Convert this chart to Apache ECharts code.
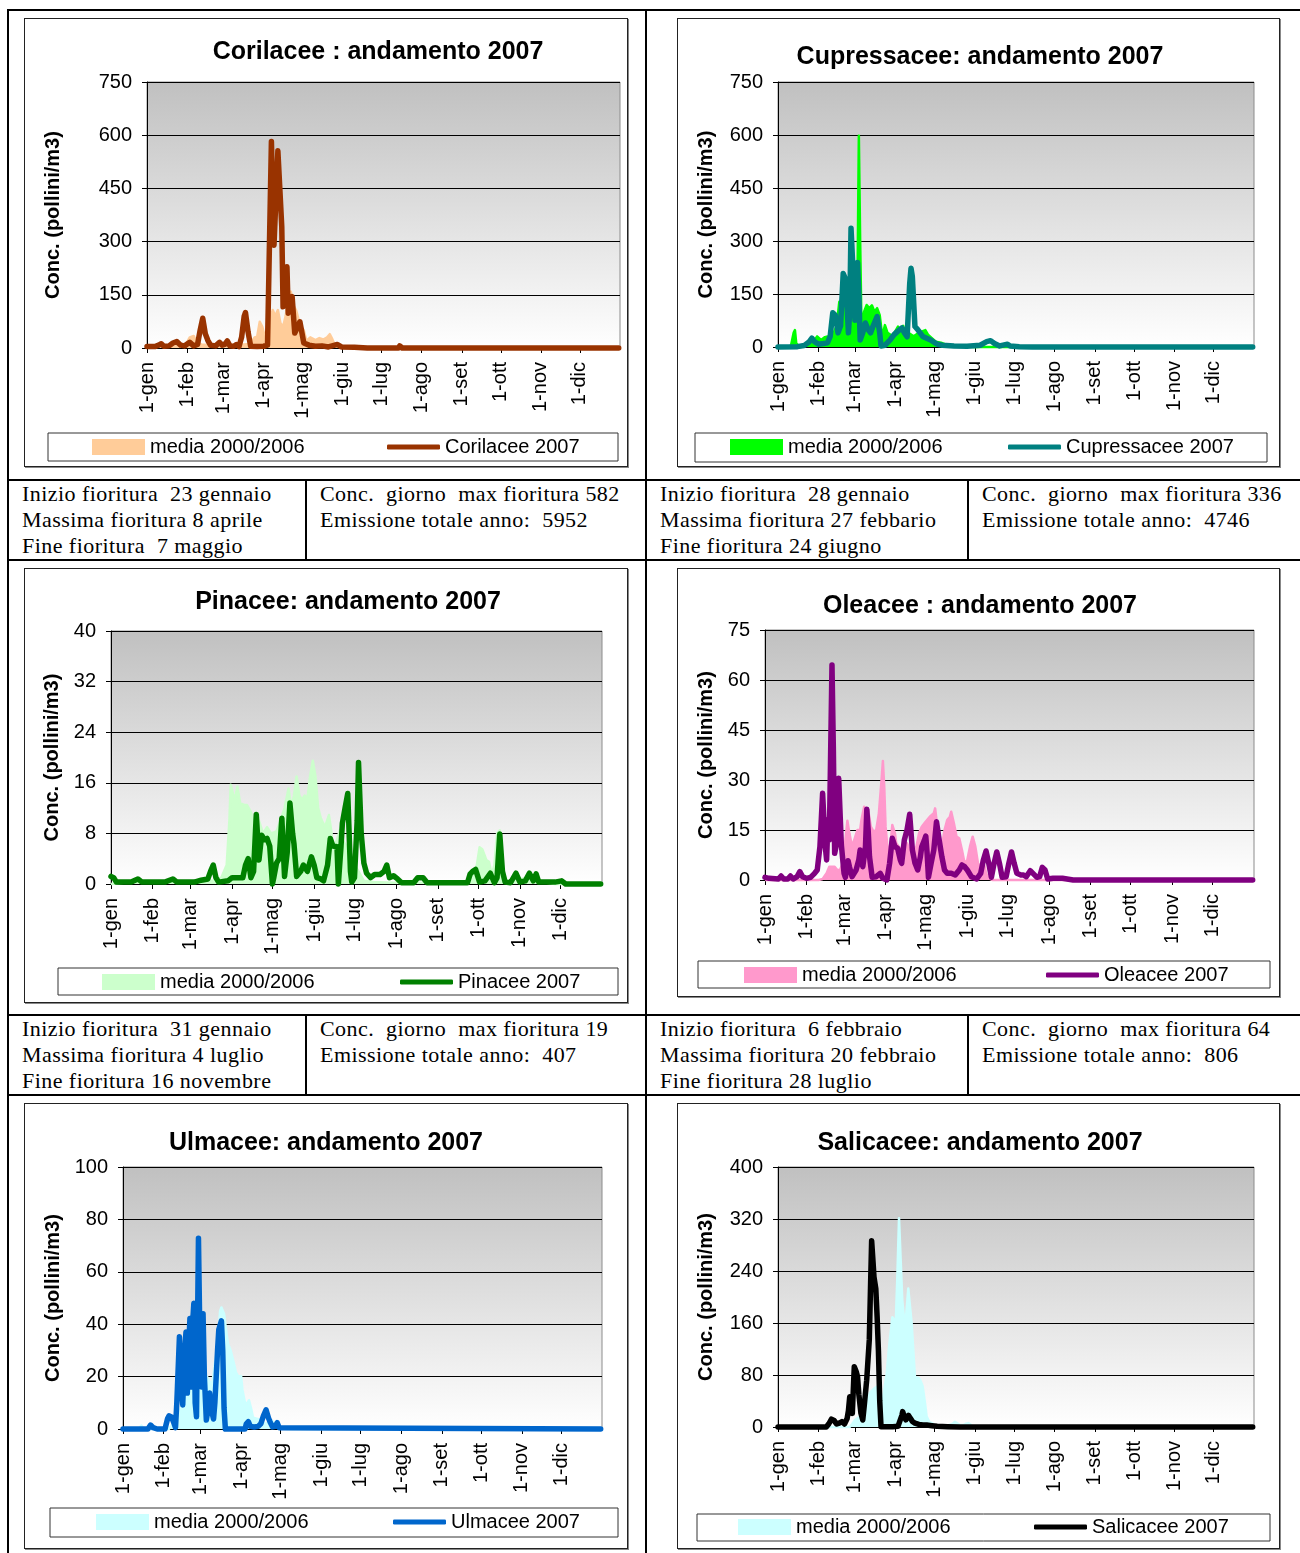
<!DOCTYPE html>
<html>
<head>
<meta charset="utf-8">
<title>Pollini 2007</title>
<script src="https://cdn.jsdelivr.net/npm/echarts@6.0.0/dist/echarts.min.js"></script>
<style>
body{margin:0;background:#fff;}
#page{position:relative;width:1300px;height:1553px;overflow:hidden;background:#fff;}
.hl{position:absolute;left:7px;width:1293px;height:2px;background:#000;}
.vl{position:absolute;width:2px;background:#000;}
.box{position:absolute;box-sizing:border-box;border:1px solid #222;box-shadow:1px 1px 0 #888;background:#fff;}
.chart{position:absolute;}
.note{position:absolute;font-family:'Liberation Serif',serif;font-size:22px;letter-spacing:0.45px;line-height:26px;white-space:pre;color:#000;}
</style>
</head>
<body>
<div id="page">
  <!-- griglia della tabella -->
  <div class="hl" style="top:9px"></div>
  <div class="hl" style="top:479px"></div>
  <div class="hl" style="top:559px"></div>
  <div class="hl" style="top:1014px"></div>
  <div class="hl" style="top:1094px"></div>
  <div class="vl" style="left:7px;top:9px;height:1544px"></div>
  <div class="vl" style="left:645px;top:9px;height:1544px"></div>
  <div class="vl" style="left:305px;top:479px;height:82px"></div>
  <div class="vl" style="left:967px;top:479px;height:82px"></div>
  <div class="vl" style="left:305px;top:1014px;height:82px"></div>
  <div class="vl" style="left:967px;top:1014px;height:82px"></div>

  <!-- note sotto i grafici -->
  <div class="note" style="left:22px;top:481px">Inizio fioritura  23 gennaio
Massima fioritura 8 aprile
Fine fioritura  7 maggio</div>
  <div class="note" style="left:320px;top:481px">Conc.  giorno  max fioritura 582
Emissione totale anno:  5952</div>
  <div class="note" style="left:660px;top:481px">Inizio fioritura  28 gennaio
Massima fioritura 27 febbario
Fine fioritura 24 giugno</div>
  <div class="note" style="left:982px;top:481px">Conc.  giorno  max fioritura 336
Emissione totale anno:  4746</div>
  <div class="note" style="left:22px;top:1016px">Inizio fioritura  31 gennaio
Massima fioritura 4 luglio
Fine fioritura 16 novembre</div>
  <div class="note" style="left:320px;top:1016px">Conc.  giorno  max fioritura 19
Emissione totale anno:  407</div>
  <div class="note" style="left:660px;top:1016px">Inizio fioritura  6 febbraio
Massima fioritura 20 febbraio
Fine fioritura 28 luglio</div>
  <div class="note" style="left:982px;top:1016px">Conc.  giorno  max fioritura 64
Emissione totale anno:  806</div>
</div>
<script>
//mesi e giorni di inizio mese
const monthStarts = [0, 31, 59, 90, 120, 151, 181, 212, 243, 273, 304, 334];
const monthNames = ['gen', 'feb', 'mar', 'apr', 'mag', 'giu', 'lug', 'ago', 'set', 'ott', 'nov', 'dic'];
const mediaName = 'media 2000/2006';

//Corilacee [giorno, conc.]
const corilaceeMedia = [[0,2],[10,4],[20,6],[30,10],[33,30],[36,34],[38,20],[42,10],[50,8],[60,10],[70,8],[80,12],[83,30],[85,32],[87,74],[89,60],[91,30],[93,60],[95,80],[97,107],[99,90],[101,107],[103,70],[105,60],[107,90],[109,140],[111,159],[113,120],[115,107],[117,80],[119,60],[121,50],[123,20],[126,30],[130,22],[133,28],[136,24],[139,30],[141,39],[143,25],[145,8],[150,3],[160,0],[364,0]];
const corilacee2007 = [[0,4],[6,4],[9,8],[11,12],[13,5],[17,6],[20,14],[23,18],[26,8],[29,6],[33,16],[36,6],[39,10],[41,50],[43,84],[45,40],[47,21],[49,8],[53,6],[56,16],[58,8],[60,10],[62,20],[64,6],[67,5],[69,10],[71,4],[73,30],[75,90],[76,100],[78,45],[80,5],[85,4],[90,5],[93,8],[94,200],[96,582],[98,290],[101,556],[104,342],[105,116],[108,229],[109,98],[112,145],[114,42],[118,74],[121,14],[125,8],[130,5],[135,6],[140,3],[147,10],[150,3],[160,2],[170,0],[194,0],[195,6],[197,0],[364,0]];

//Cupressacee
const cupressaceeMedia = [[0,0],[8,0],[10,5],[12,40],[13,48],[14,10],[16,3],[20,5],[25,10],[28,20],[30,30],[33,20],[36,28],[38,30],[40,20],[42,35],[45,60],[47,128],[50,120],[53,150],[55,130],[57,76],[59,70],[60,80],[61,200],[62,598],[63,300],[64,60],[66,100],[68,119],[70,110],[72,118],[74,100],[76,110],[78,90],[80,30],[82,62],[84,40],[86,35],[88,30],[90,45],[92,58],[94,40],[96,60],[98,30],[100,40],[104,30],[108,40],[111,45],[113,48],[115,35],[118,25],[121,15],[125,12],[130,5],[140,3],[150,0],[364,0]];
const cupressacee2007 = [[0,0],[15,1],[20,4],[24,15],[26,25],[28,15],[31,8],[35,10],[38,12],[40,30],[42,97],[44,90],[46,40],[48,60],[50,208],[52,190],[54,40],[55,100],[56,336],[58,180],[59,76],[61,239],[62,150],[63,20],[65,40],[67,68],[69,50],[71,40],[73,60],[76,86],[78,40],[79,3],[82,5],[86,20],[89,35],[92,45],[95,54],[97,40],[99,29],[101,180],[102,223],[103,200],[105,58],[107,50],[109,40],[111,30],[114,25],[117,20],[119,15],[122,8],[126,5],[135,3],[145,2],[155,5],[160,15],[163,18],[166,10],[170,3],[176,8],[178,3],[185,1],[195,0],[364,0]];

//Pinacee
const pinaceeMedia = [[0,0],[15,0.3],[30,0.3],[45,0.2],[60,0.3],[75,0.5],[82,1],[86,3],[88,10],[89,15.7],[91,14],[92,13.3],[94,15.4],[96,12.8],[99,12.5],[101,12.5],[104,11.4],[107,9],[110,10],[113,8],[116,9],[119,8],[123,8.3],[126,10],[129,12],[132,15.1],[134,12],[136,14],[138,17],[140,14],[142,13.3],[144,14],[146,13.5],[148,17],[150,19.5],[152,17],[154,12],[156,10.4],[159,9],[162,10.9],[164,8],[165,5.4],[168,7],[170,8.5],[172,7],[175,6],[178,5],[181,3],[184,2],[188,0.5],[195,0.3],[210,0.2],[240,0.2],[250,0.4],[255,0.2],[268,0.5],[272,3],[274,5.8],[276,5.5],[279,3.8],[281,3.5],[283,1.5],[285,3],[287,8],[289,8.5],[291,2],[294,0.5],[300,0.5],[305,0.8],[309,1],[312,0.5],[320,0.3],[330,0],[364,0]];
const pinacee2007 = [[0,1.2],[2,1],[4,0.3],[15,0.3],[20,0.8],[23,0.3],[40,0.3],[46,0.8],[49,0.3],[62,0.3],[67,0.6],[72,0.8],[74,2],[76,3],[78,1],[80,0.3],[87,0.5],[90,1],[93,1],[98,1],[100,3],[102,4],[104,1],[106,2],[108,11],[110,3.8],[112,7.7],[114,7],[116,7.2],[118,6],[119,5.9],[120,0],[121,1],[123,3.3],[125,4],[127,10.4],[129,1.2],[131,5],[133,12.8],[135,8],[136,6.4],[138,1.2],[141,2],[143,3],[146,2],[149,4.3],[151,3],[153,1],[156,0.8],[158,0.5],[161,3],[163,7.2],[165,6],[168,5.9],[169,0],[171,6],[172,9.6],[174,12],[176,14.3],[178,2],[179,0.3],[181,1],[183,10],[184,19.2],[186,8],[188,3.3],[190,1.7],[193,1],[196,1.5],[200,1.5],[203,2],[205,3],[207,1],[210,1.3],[213,0.8],[216,0.2],[225,0.2],[228,1],[232,1],[235,0.2],[265,0.2],[267,1.6],[269,2],[271,2.3],[274,0.3],[278,0.5],[282,1.7],[285,0.2],[287,1],[289,7.9],[291,2],[293,0.3],[297,0.2],[301,1.7],[304,0.3],[308,0.5],[311,1.7],[314,0.5],[316,1.6],[318,0.3],[330,0.3],[335,0.5],[338,0],[364,0]];

//Oleacee
const oleaceeMedia = [[0,0],[40,0],[43,0.3],[46,2],[48,4],[50,4],[52,4],[54,3],[56,3],[58,5],[60,12],[61.5,17.8],[63,14],[65,10],[67,12.5],[69,15],[71,15],[72,18],[74,22],[76,20],[77,21],[79,16],[81,14.5],[83,15],[85,20],[87,30],[88,35.7],[89,28],[90,16],[92,7],[94,12],[95,16.5],[97,14],[98,11],[100,10],[102,9],[104,10],[106,11],[108,9],[111,7],[113,10],[115,14],[117,16],[119,17],[121,18],[123,19],[124,19.5],[126,20],[127,21.5],[128,18],[130,9],[132,10],[134,15],[136,18],[138,19],[139,20.5],[141,17],[143,13],[145,12.5],[147,9],[149,5],[151,6],[153,10],[155,13],[157,10],[159,5],[161,4],[162,6],[164,4],[165,2],[167,0.5],[170,0],[364,0]];
const oleacee2007 = [[0,0.8],[3,0.5],[10,0.3],[12,1.2],[14,0.3],[17,0.3],[19,1.2],[21,0.3],[24,1],[26,2.5],[28,1],[31,0.5],[34,0.8],[37,2],[39,3],[41,10],[43,26],[45,10],[46,6],[47,18],[48,12],[50,64.5],[51,40],[52,8],[53,10],[55,30.5],[57,10.5],[59,2],[60,0.8],[62,5.8],[63,4],[65,1],[66,0.7],[68,3],[70,6],[71,9],[73,4],[75,10],[76,21.2],[77,15],[78,7],[80,0.8],[83,1],[86,2],[88,0.5],[91,0],[93,5],[95,12.5],[97,10],[99,9.5],[101,6],[102,5],[104,12],[106,15],[108,19.7],[110,9],[112,5],[114,3],[116,7],[117,10],[119,12],[120,13.2],[121,8],[122,0.8],[124,5],[126,9],[128,17.5],[130,12],[132,7],[134,3],[136,2],[139,2],[142,1.5],[145,3],[147,4.5],[149,4],[151,3],[154,1],[158,0.3],[161,2],[163,6],[165,8.7],[167,5],[169,0.8],[171,5],[173,8.4],[175,5],[177,0.8],[180,1],[182,5],[184,8.4],[186,5],[188,2],[191,1.5],[193,1.5],[195,1],[198,2.8],[200,2],[203,0.8],[205,1],[207,3.8],[209,3],[211,0.3],[215,0.5],[222,0.5],[230,0],[364,0]];

//Ulmacee
const ulmaceeMedia = [[0,0],[12,0],[14,1.3],[16,0],[35,0],[38,2],[40,3.5],[42,6],[45,8.6],[48,12.2],[51,14],[54,16],[57,17],[59,18.4],[62,19],[64,20],[66,18],[68,17.2],[70,25],[72,31.4],[74,45],[75,46.4],[77,44],[79,36],[80,32.7],[82,30],[83,29.5],[85,24],[86,21.6],[88,20],[90,20.2],[91,15],[93,9.8],[95,10],[96,11],[98,7],[99,4.6],[101,4],[103,3.8],[106,3],[108,2],[111,2.5],[113,3.4],[116,2],[118,0.8],[121,0.3],[125,0],[364,0]];
const ulmacee2007 = [[0,0],[19,0],[21,1.5],[23,0.5],[26,0],[32,0],[34,4],[35,5],[37,4.6],[39,2],[40,0.5],[41,10],[43,35.2],[44,20],[45.5,9.2],[47,30],[48,37],[49,13.7],[50,30],[51,42.2],[52,16],[53,40],[54,48],[55,10],[56,4.7],[57,50],[57.5,72.8],[59,20],[60,16],[61,44],[62,20],[63.5,3.4],[65,8],[66,13.7],[67,8],[69,3.8],[70,10],[72,29.5],[73,38],[75,41.3],[76,30],[77,8],[78,0],[93,0],[94,2],[95.5,2.8],[97,1],[100,0.8],[103,1],[105,2],[107,5],[109,7.3],[111,4],[112,2.8],[114,0.8],[116,1],[117.5,2.4],[119,0.5],[120,0],[364,0]];

//Salicacee
const salicaceeMedia = [[0,0],[55,0],[57,5],[59,10.8],[62,15],[64.6,21],[67,30],[69,45],[70.6,52.8],[73,58],[75.7,62],[77,45],[79.5,26],[81,50],[83.4,82.6],[85,120],[87.7,168.8],[89,165],[90.2,154],[91.5,230],[92.8,321],[94,260],[95.3,195],[96.5,170],[97.9,162],[99,190],[99.9,213],[101,190],[102.5,159],[104,110],[105,77],[106.5,80],[108,75],[109.5,70],[111,62],[112.5,40],[114,16],[116,8],[118,6],[121,2],[125,1],[130,2],[134,5],[135.7,8],[137,6],[139.5,3],[142,3],[144,5],[146,6],[148,3],[150,0],[364,0]];
const salicacee2007 = [[0,0],[37,0],[39,5],[41,12],[42,13.3],[43,10],[45,4.6],[47,6],[49,8.2],[51,4.6],[53,13],[54,25],[55,46.7],[56,30],[57,21],[58,70],[58.5,92.8],[60,85],[61,77.4],[62,50],[63.6,21],[65,10.8],[66,30],[68,72],[70,134],[71,220],[71.8,286.6],[73,250],[73.6,231],[75,213],[76,170],[77,118],[78,40],[79,0.5],[85,0.5],[88,0.5],[92,1],[93.5,2],[95,18],[95.6,23.6],[97,15],[98,11],[100,18],[101,21],[102,12],[103,8.5],[105,6],[106,6],[108,4],[111,3],[114,3],[118,2],[122,1],[130,0.5],[140,0],[364,0]];

//configurazione dei sei grafici
let charts = [
    {
        title: 'Corilacee : andamento 2007', name: 'Corilacee 2007', yMax: 750, yStep: 150,
        media: corilaceeMedia, anno: corilacee2007, mediaColor: '#FFCC99', lineColor: '#993300',
        box: [24, 18, 604, 449], grid: [123, 64, 473, 266], titlePos: [354, 34], nameGap: 84,
        legendBox: [24, 415, 570, 28], leg1: 68, leg2: 363, legY: 429
    },
    {
        title: 'Cupressacee: andamento 2007', name: 'Cupressacee 2007', yMax: 750, yStep: 150,
        media: cupressaceeMedia, anno: cupressacee2007, mediaColor: '#00FF00', lineColor: '#008080',
        box: [677, 18, 603, 449], grid: [101, 64, 476, 265], titlePos: [303, 39], nameGap: 62,
        legendBox: [18, 415, 572, 29], leg1: 53, leg2: 331, legY: 429
    },
    {
        title: 'Pinacee: andamento 2007', name: 'Pinacee 2007', yMax: 40, yStep: 8,
        media: pinaceeMedia, anno: pinacee2007, mediaColor: '#CCFFCC', lineColor: '#008000',
        box: [24, 568, 604, 435], grid: [87, 63, 491, 253], titlePos: [324, 34], nameGap: 48,
        legendBox: [34, 400, 560, 27], leg1: 78, leg2: 376, legY: 414
    },
    {
        title: 'Oleacee : andamento 2007', name: 'Oleacee 2007', yMax: 75, yStep: 15,
        media: oleaceeMedia, anno: oleacee2007, mediaColor: '#FF99CC', lineColor: '#800080',
        box: [677, 568, 603, 429], grid: [88, 62, 489, 250], titlePos: [303, 38], nameGap: 49,
        legendBox: [21, 393, 572, 27], leg1: 67, leg2: 369, legY: 407
    },
    {
        title: 'Ulmacee: andamento 2007', name: 'Ulmacee 2007', yMax: 100, yStep: 20,
        media: ulmaceeMedia, anno: ulmacee2007, mediaColor: '#CCFFFF', lineColor: '#0066CC',
        box: [24, 1103, 604, 446], grid: [99, 64, 479, 262], titlePos: [302, 40], nameGap: 60,
        legendBox: [26, 405, 568, 29], leg1: 72, leg2: 369, legY: 419
    },
    {
        title: 'Salicacee: andamento 2007', name: 'Salicacee 2007', yMax: 400, yStep: 80,
        media: salicaceeMedia, anno: salicacee2007, mediaColor: '#CCFFFF', lineColor: '#000000',
        box: [677, 1103, 603, 446], grid: [101, 64, 476, 260], titlePos: [303, 40], nameGap: 62,
        legendBox: [20, 411, 573, 27], leg1: 61, leg2: 357, legY: 424
    }
];

const fontSans = "'Liberation Sans', Arial, sans-serif";

function drawChart(c) {
    let page = document.getElementById('page');
    //cornice del grafico
    let frame = document.createElement('div');
    frame.className = 'box';
    frame.style.cssText = 'left:' + c.box[0] + 'px;top:' + c.box[1] + 'px;width:' + c.box[2] + 'px;height:' + c.box[3] + 'px;';
    page.appendChild(frame);
    let el = document.createElement('div');
    el.className = 'chart';
    el.style.cssText = 'left:' + c.box[0] + 'px;top:' + c.box[1] + 'px;width:' + c.box[2] + 'px;height:' + c.box[3] + 'px;';
    page.appendChild(el);

    let myChart = echarts.init(el);
    let legendCommon = {
        top: c.legY - 10, padding: 0, itemWidth: 53,
        textStyle: { fontSize: 20, color: '#000', fontFamily: fontSans },
        selectedMode: false
    };
    let option = {
        animation: false,
        textStyle: { fontFamily: fontSans },
        title: {
            text: c.title, left: c.titlePos[0], top: c.titlePos[1] - 12, textAlign: 'center', padding: 0,
            textStyle: { fontSize: 25, fontWeight: 'bold', color: '#000', fontFamily: fontSans }
        },
        legend: [
            Object.assign({ left: c.leg1, itemHeight: 16, data: [{ name: mediaName, icon: 'rect' }] }, legendCommon),
            Object.assign({ left: c.leg2, itemHeight: 5, data: [{ name: c.name, icon: 'roundRect' }] }, legendCommon)
        ],
        grid: {
            left: c.grid[0], top: c.grid[1], width: c.grid[2], height: c.grid[3],
            show: true, borderColor: '#8c8c8c', borderWidth: 1,
            backgroundColor: {
                type: 'linear', x: 0, y: 0, x2: 0, y2: 1,
                colorStops: [{ offset: 0, color: '#c0c0c0' }, { offset: 1, color: '#ffffff' }]
            }
        },
        xAxis: {
            type: 'value', min: 0, max: 365,
            axisLine: { show: true, lineStyle: { color: '#000', width: 1 } },
            axisTick: { show: true, length: 5, customValues: monthStarts, lineStyle: { color: '#000' } },
            axisLabel: {
                customValues: monthStarts, rotate: 90, fontSize: 20, color: '#000', margin: 14,
                formatter: function (v) {
                    return '1-' + monthNames[monthStarts.indexOf(v)];
                }
            },
            splitLine: { show: false }
        },
        yAxis: {
            type: 'value', min: 0, max: c.yMax, interval: c.yStep,
            name: 'Conc. (pollini/m3)', nameLocation: 'middle', nameGap: c.nameGap, nameRotate: 90,
            nameTextStyle: { fontSize: 20, fontWeight: 'bold', color: '#000', fontFamily: fontSans },
            axisLine: { show: true, lineStyle: { color: '#000', width: 1 } },
            axisTick: { show: true, length: 5, lineStyle: { color: '#000' } },
            axisLabel: { fontSize: 20, color: '#000', margin: 15 },
            splitLine: { show: true, lineStyle: { color: '#000', width: 1 } }
        },
        graphic: [{
            type: 'rect', silent: true,
            shape: { x: c.legendBox[0], y: c.legendBox[1], width: c.legendBox[2], height: c.legendBox[3] },
            style: { fill: 'none', stroke: '#333', lineWidth: 1 }
        }],
        series: [
            {
                name: mediaName, type: 'line', data: c.media, symbol: 'none', clip: false,
                itemStyle: { color: c.mediaColor },
                lineStyle: { color: c.mediaColor, width: 2.5, join: 'round' },
                areaStyle: { color: c.mediaColor, opacity: 1 },
                z: 2
            },
            {
                name: c.name, type: 'line', data: c.anno, symbol: 'none', clip: false,
                itemStyle: { color: c.lineColor },
                lineStyle: { color: c.lineColor, width: 5.5, cap: 'round', join: 'round' },
                z: 3
            }
        ]
    };
    myChart.setOption(option);
}

charts.forEach(drawChart);
</script>
</body>
</html>
